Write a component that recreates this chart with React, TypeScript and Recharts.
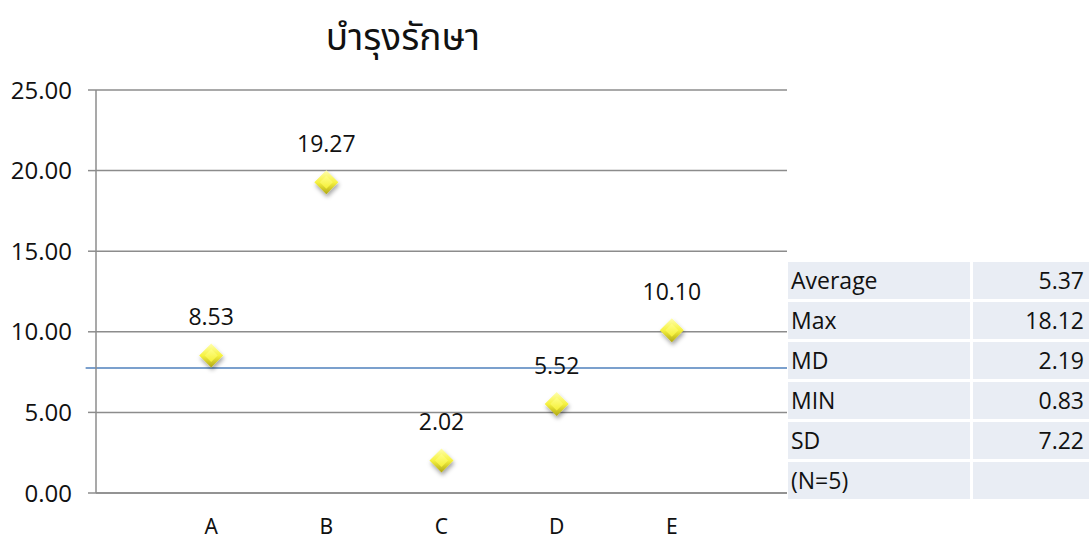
import React from "react";
import {
  CartesianGrid,
  ReferenceLine,
  Scatter,
  ScatterChart,
  XAxis,
  YAxis,
} from "recharts";

const categories = ["A", "B", "C", "D", "E"];
const values = [8.53, 19.27, 2.02, 5.52, 10.1];
const yTicks = [0, 5, 10, 15, 20, 25];
const medianLine = 7.75;

const statLabels = ["Average", "Max", "MD", "MIN", "SD", "(N=5)"];
const statValues = ["5.37", "18.12", "2.19", "0.83", "7.22", ""];

const points = categories.map((name, i) => ({ x: i + 1, name, value: values[i] }));

const labelFont = "'Open Sans', 'Noto Sans', sans-serif";
const thaiFont = "'Noto Sans Thai', 'Noto Sans', Roboto, sans-serif";

// bevelled yellow diamond with its value written above
const Diamond = (props: any) => {
  const { cx, cy, payload } = props;
  const r = 12;
  const ir = 6.5;
  const outer = `M${cx},${cy - r} L${cx + r},${cy} L${cx},${cy + r} L${cx - r},${cy} Z`;
  const inner = `M${cx},${cy - ir} L${cx + ir},${cy} L${cx},${cy + ir} L${cx - ir},${cy} Z`;
  return (
    <g>
      <path d={outer} fill="url(#dmOuter)" filter="url(#dmShadow)" />
      <path d={inner} fill="url(#dmInner)" />
      <text
        x={cx}
        y={cy - 30}
        textAnchor="middle"
        fontSize={23}
        fontFamily={labelFont}
        fill="#111"
      >
        {payload.value.toFixed(2)}
      </text>
    </g>
  );
};

const cell = {
  background: "#e9edf4",
  fontFamily: labelFont,
  fontSize: 23,
  lineHeight: "37px",
  color: "#111",
};

const StatsTable = () => (
  <div style={{ position: "absolute", left: 788, top: 262, width: 301 }}>
    {statLabels.map((label, i) => (
      <div key={label} style={{ display: "flex", height: 37, marginBottom: 3 }}>
        <div style={{ ...cell, width: 179, marginRight: 3, paddingLeft: 3 }}>{label}</div>
        <div style={{ ...cell, flex: 1, textAlign: "right", paddingRight: 5 }}>
          {statValues[i]}
        </div>
      </div>
    ))}
  </div>
);

const App = () => (
  <div style={{ position: "absolute", left: 0, top: 0, width: 1089, height: 543, background: "#fff" }}>
    <svg width={0} height={0} style={{ position: "absolute" }}>
      <defs>
        <linearGradient id="dmOuter" x1="0" y1="0" x2="0" y2="1">
          <stop offset="0%" stopColor="#ffffb0" />
          <stop offset="50%" stopColor="#f6f240" />
          <stop offset="100%" stopColor="#b0a812" />
        </linearGradient>
        <linearGradient id="dmInner" x1="0" y1="0" x2="0" y2="1">
          <stop offset="0%" stopColor="#ffff88" />
          <stop offset="100%" stopColor="#f4ef36" />
        </linearGradient>
        <filter id="dmShadow" x="-50%" y="-50%" width="200%" height="200%">
          <feDropShadow dx="1" dy="3" stdDeviation="2" floodColor="#000" floodOpacity="0.35" />
        </filter>
      </defs>
    </svg>

    <div
      style={{
        position: "absolute",
        left: 403,
        top: 11,
        transform: "translateX(-50%)",
        fontFamily: thaiFont,
        fontSize: 37,
        whiteSpace: "nowrap",
        color: "#111",
      }}
    >
      บำรุงรักษา
    </div>

    <ScatterChart
      width={1089}
      height={543}
      margin={{ top: 90, right: 302, bottom: 0, left: 0 }}
      style={{ position: "absolute", left: 0, top: 0 }}
    >
      <CartesianGrid vertical={false} stroke="#8c8c8c" strokeWidth={1.5} />
      <XAxis
        type="number"
        dataKey="x"
        domain={[0, 6]}
        ticks={[1, 2, 3, 4, 5]}
        tickFormatter={(v: number) => categories[v - 1]}
        height={50}
        tickLine={false}
        tickSize={0}
        tickMargin={26}
        axisLine={{ stroke: "#8c8c8c", strokeWidth: 1.5 }}
        tick={{ fill: "#111", fontSize: 21, fontFamily: thaiFont }}
      />
      <YAxis
        type="number"
        domain={[0, 25]}
        ticks={yTicks}
        tickFormatter={(v: number) => v.toFixed(2)}
        width={96}
        tickSize={8}
        tickMargin={16}
        axisLine={{ stroke: "#8c8c8c", strokeWidth: 1.5 }}
        tickLine={{ stroke: "#8c8c8c", strokeWidth: 1.5 }}
        tick={{ fill: "#111", fontSize: 24, fontFamily: labelFont }}
      />
      <ReferenceLine
        segment={[
          { x: -0.09, y: medianLine },
          { x: 6, y: medianLine },
        ]}
        ifOverflow="visible"
        stroke="#4f81bd"
        strokeWidth={1.5}
      />
      <Scatter data={points} dataKey="value" shape={Diamond} isAnimationActive={false} />
    </ScatterChart>

    <StatsTable />
  </div>
);

export default App;
